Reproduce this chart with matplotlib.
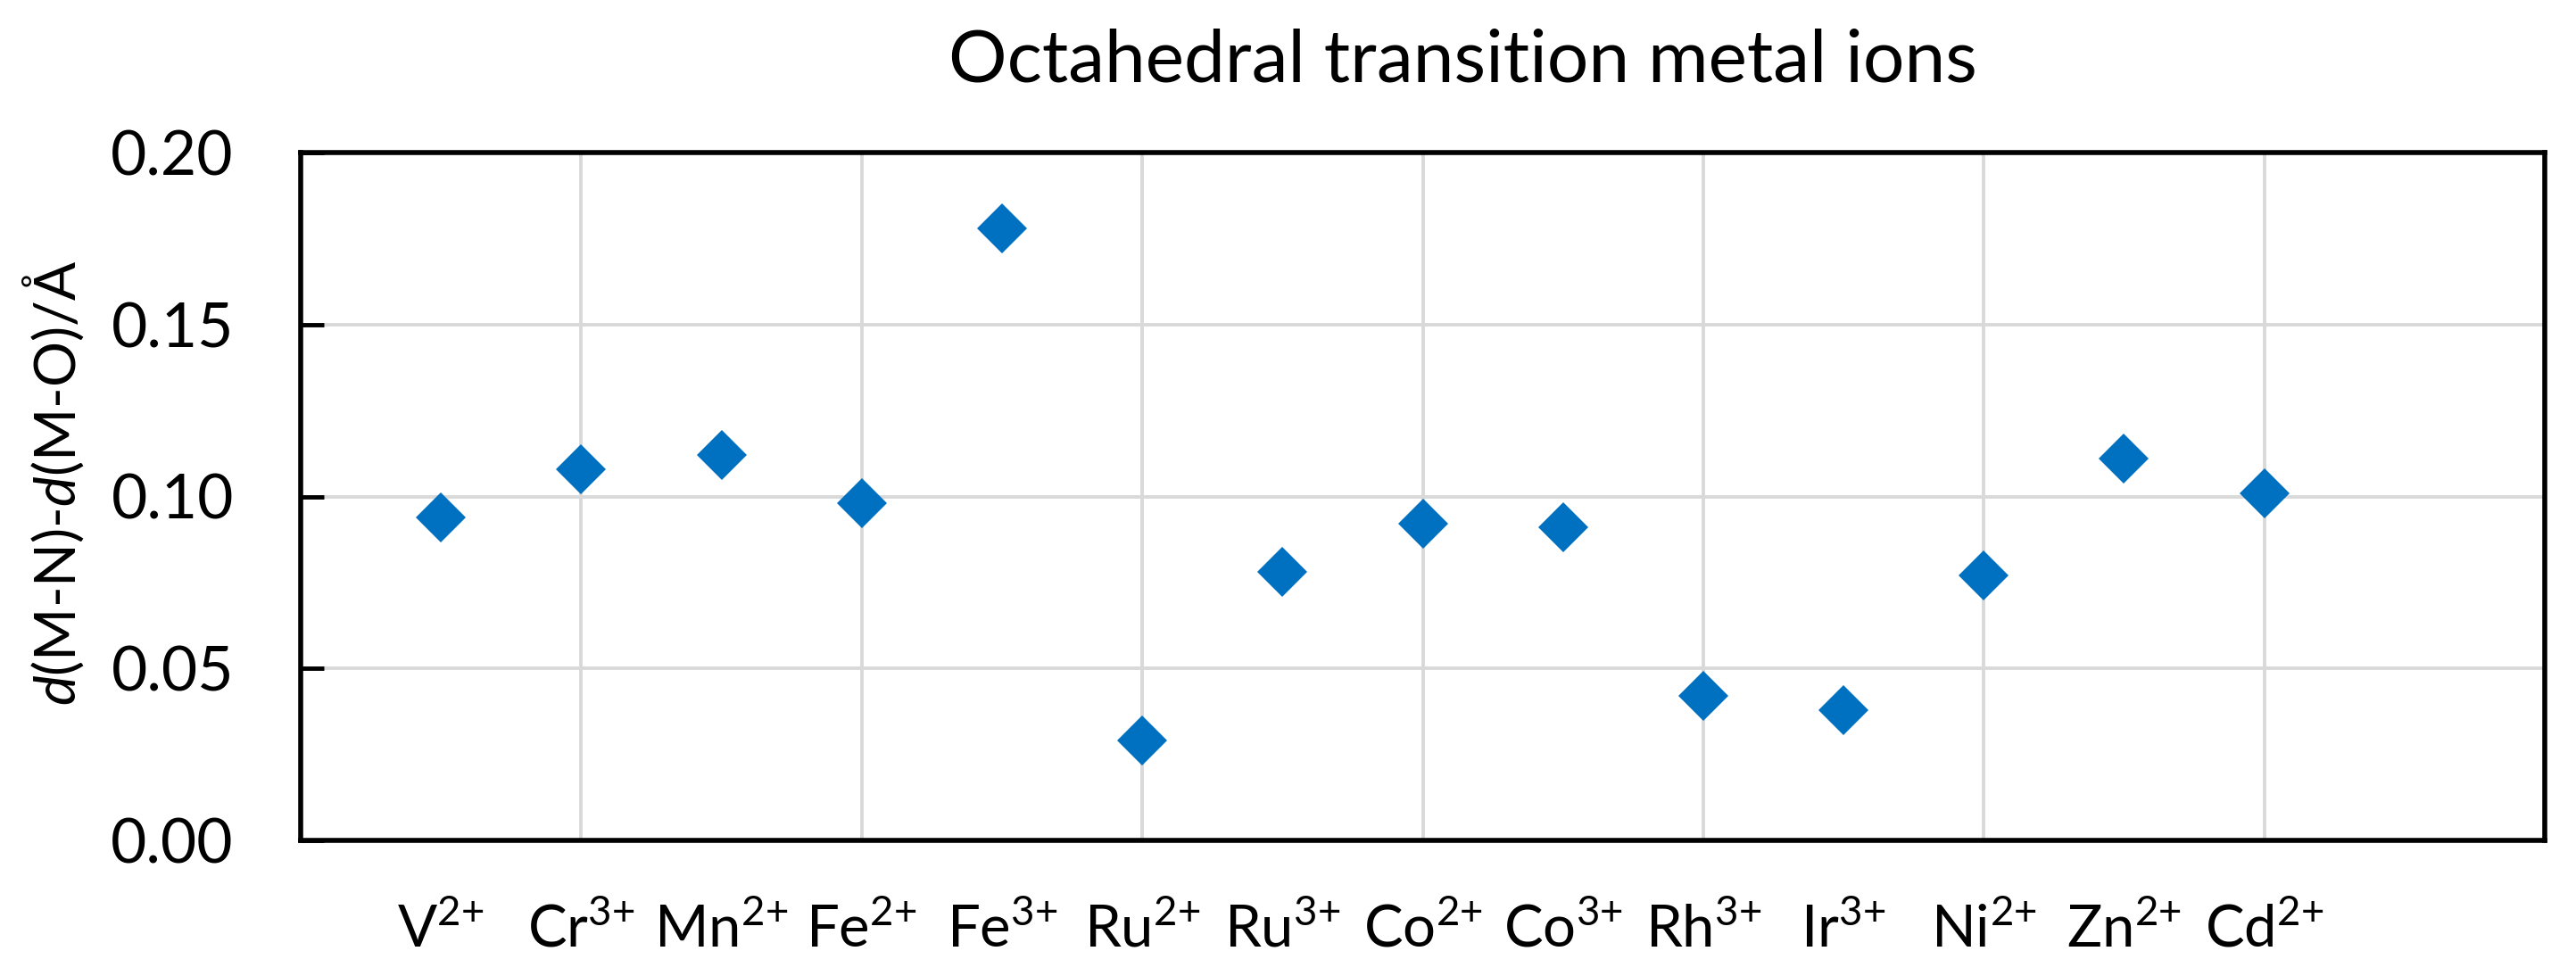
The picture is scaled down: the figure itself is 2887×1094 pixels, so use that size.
import matplotlib
matplotlib.use("Agg")
import matplotlib.pyplot as plt
from matplotlib.ticker import FormatStrFormatter, MultipleLocator

plt.rcParams['font.family'] = ['Lato', 'DejaVu Sans']
plt.rcParams['mathtext.fontset'] = 'custom'
plt.rcParams['mathtext.rm'] = 'Lato'
plt.rcParams['mathtext.it'] = 'Lato:italic'
plt.rcParams['mathtext.bf'] = 'Lato:bold'

# ---- data ----
ions = ["V", "Cr", "Mn", "Fe", "Fe", "Ru", "Ru", "Co", "Co", "Rh", "Ir", "Ni", "Zn", "Cd"]
charges = ["2", "3", "2", "2", "3", "2", "3", "2", "3", "3", "3", "2", "2", "2"]
delta = [0.094, 0.108, 0.112, 0.098, 0.178, 0.029, 0.078, 0.092, 0.091,
         0.042, 0.038, 0.077, 0.111, 0.101]
yticks = [0.00, 0.05, 0.10, 0.15, 0.20]
title = "Octahedral transition metal ions"
ylabel = r"$\mathit{d}$(M-N)-$\mathit{d}$(M-O)/Å"

labels = [f"{i}$^{{{c}{{+}}}}$" for i, c in zip(ions, charges)]
xpos = list(range(1, len(ions) + 1))

W, H = 2887, 1094
fig = plt.figure(figsize=(W / 100, H / 100), dpi=100)
ax = fig.add_axes([337 / W, 1 - 942 / H, (2852 - 337) / W, (942 - 171) / H])

blue = '#0070C0'
ax.plot(xpos, delta, linestyle='none', marker='D', markersize=29,
        color=blue, markeredgewidth=0, zorder=3)

ax.set_xlim(0, 16)
ax.set_ylim(0, 0.20)
ax.set_yticks(yticks)
ax.yaxis.set_major_formatter(FormatStrFormatter('%.2f'))
ax.set_xticks(xpos)
ax.set_xticklabels(labels)
ax.xaxis.remove_overlapping_locs = False
ax.xaxis.set_minor_locator(MultipleLocator(2))

ax.grid(which='major', axis='y', color='#D9D9D9', linewidth=2.8, zorder=0)
ax.grid(which='major', axis='x', visible=False)
ax.grid(which='minor', axis='x', color='#D9D9D9', linewidth=2.8, zorder=0)
ax.set_axisbelow(True)

for s in ax.spines.values():
    s.set_linewidth(4.0)
    s.set_color('black')

ax.tick_params(axis='y', direction='in', length=19, width=3.5, pad=54,
               labelsize=50, colors='black')
ax.tick_params(axis='x', which='major', length=0, pad=50, labelsize=47)
ax.tick_params(axis='x', which='minor', length=0)

ax.set_ylabel(ylabel, fontsize=46, va='center')
ax.yaxis.set_label_coords((60 - 337) / (2852 - 337), 0.52)

fig.text(1639 / W, 1 - 91 / H, title, ha='center', va='baseline', fontsize=59)

fig.savefig('out.png', dpi=100, facecolor='white')
